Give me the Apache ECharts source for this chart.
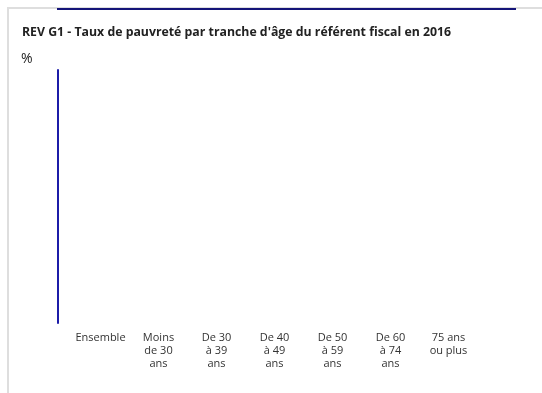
<!DOCTYPE html>
<html>
<head>
<meta charset="utf-8">
<script src="https://cdn.jsdelivr.net/npm/echarts@6/dist/echarts.min.js"></script>
<style>
  html, body { margin: 0; padding: 0; background: #fff; }
  #chart { width: 542px; height: 393px; }
</style>
</head>
<body>
<div id="chart"></div>
<script>
// categories (age bands of the fiscal referent)
const categories = [
  'Ensemble',
  'Moins\nde 30\nans',
  'De 30\nà 39\nans',
  'De 40\nà 49\nans',
  'De 50\nà 59\nans',
  'De 60\nà 74\nans',
  '75 ans\nou plus'
]
// no bars are drawn in the reference: values are missing
const poverty = ['-', '-', '-', '-', '-', '-', '-']

const chart = echarts.init(document.getElementById('chart'))
chart.setOption({
  animation: false,
  textStyle: { fontFamily: 'Open Sans' },
  title: {
    text: 'REV G1 - Taux de pauvreté par tranche d\'âge du référent fiscal en 2016',
    left: 17,
    top: 21,
    textStyle: {
      color: '#222',
      fontWeight: 'bold',
      fontSize: 12.3,
      fontFamily: 'Open Sans'
    }
  },
  graphic: [
    { type: 'rect', shape: { x: 7, y: 7, width: 535, height: 2 }, style: { fill: '#dedede' } },
    { type: 'rect', shape: { x: 7, y: 7, width: 2, height: 386 }, style: { fill: '#dedede' } },
    { type: 'rect', shape: { x: 57, y: 8, width: 459, height: 2 }, style: { fill: '#141478' } }
  ],
  grid: {
    left: 71.5,
    width: 406,
    top: 70,
    bottom: 70
  },
  xAxis: {
    type: 'category',
    data: categories,
    axisLine: { show: false },
    axisTick: { show: false },
    axisLabel: {
      color: '#333',
      fontSize: 11,
      lineHeight: 13,
      margin: 8,
      interval: 0
    }
  },
  yAxis: {
    type: 'value',
    offset: 14,
    min: 0,
    max: 10,
    name: '%',
    nameLocation: 'end',
    nameGap: 11,
    nameTextStyle: {
      color: '#222',
      fontSize: 14,
      align: 'right',
      verticalAlign: 'middle',
      padding: [0, 25, 0, 0]
    },
    axisLine: { show: true, lineStyle: { color: '#1c1ca8', width: 2 } },
    axisTick: { show: false },
    axisLabel: { show: false },
    splitLine: { show: false }
  },
  series: [
    {
      name: 'Taux de pauvreté',
      type: 'bar',
      data: poverty,
      itemStyle: { color: '#1c1ca8' }
    }
  ]
})
</script>
</body>
</html>
